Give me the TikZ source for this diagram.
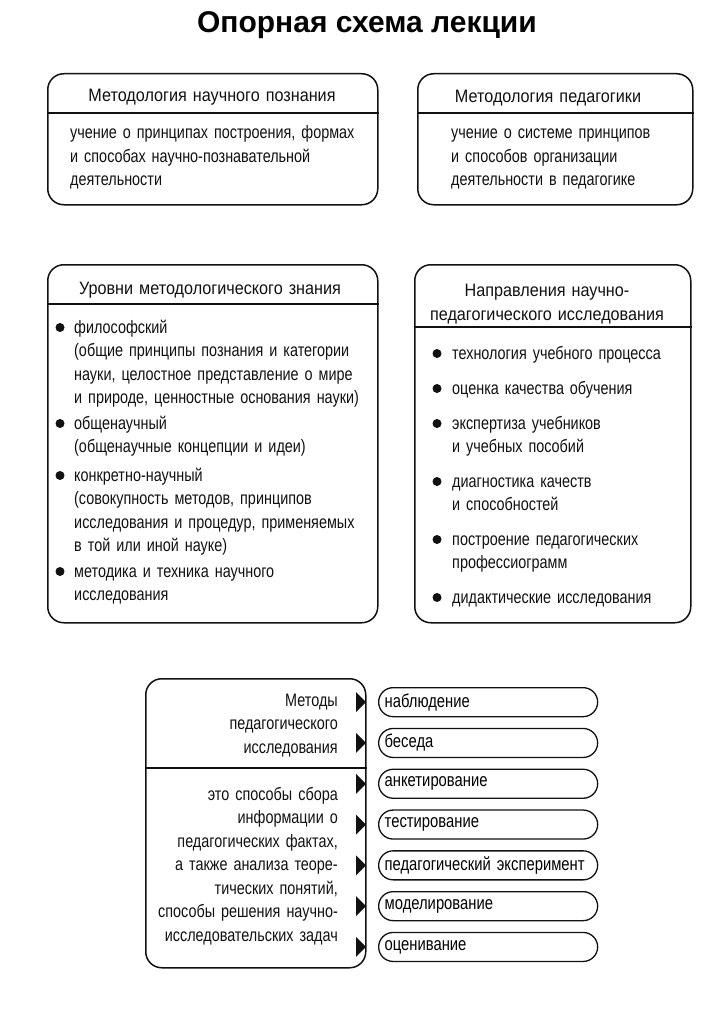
\documentclass[tikz,border=0pt]{standalone}
\usepackage{fontspec}
\setmainfont{Liberation Sans}[FakeStretch=0.8]
\newfontfamily\headfont{Liberation Sans}[FakeStretch=0.9]
\newfontfamily\titlefont{Liberation Sans}
\usetikzlibrary{positioning}
\definecolor{inkblack}{HTML}{111111}
\newcommand\bodyfont{\fontsize{18}{23.5}\selectfont\spaceskip=4pt plus 1pt minus 1pt\relax}
\newcommand\headerfont{\headfont\fontsize{18}{24}\selectfont\spaceskip=4.5pt plus 1pt minus 1pt\relax}
\newcommand\pillfont{\fontsize{18.5}{20}\selectfont\spaceskip=4pt plus 1pt minus 1pt\relax}
\tikzset{
  panel/.style={
    draw=inkblack,
    line width=1.5pt,
    rounded corners=16pt,
    anchor=north west,
    inner sep=0pt
  },
  sepline/.style={
    draw=inkblack,
    line width=1.2pt
  },
  bodytext/.style={
    font=\bodyfont,
    text=inkblack,
    inner sep=0pt,
    align=left
  },
  headtext/.style={
    bodytext,
    font=\headerfont,
    align=center,
    text width=310pt,
    anchor=base
  },
  itemtext/.style={
    bodytext,
    anchor=base west,
    text width=300pt
  },
  righttext/.style={
    bodytext,
    align=right,
    text width=190pt,
    anchor=base east
  },
  methodbox/.style={
    draw=inkblack,
    line width=1.3pt,
    rounded corners=14.5pt,
    minimum width=219pt,
    minimum height=29pt,
    text width=207pt,
    inner xsep=6pt,
    inner ysep=0pt,
    font=\pillfont,
    align=left
  },
  dot/.style={
    fill=inkblack
  }
}

\begin{document}
\begin{tikzpicture}[x=1pt, y=-1pt, node distance=10.5pt]
    \useasboundingbox (0,0) rectangle (711,1019);

    % title
    \node[anchor=base, font=\titlefont\bfseries\fontsize{30}{32}\selectfont] (title) at (367,33) {Опорная схема лекции};

    % top row
    \node[panel, minimum width=330pt, minimum height=131pt] (npbox) at (47,73) {};
    \draw[sepline] (npbox.west |- 0,113) -- (npbox.east |- 0,113);
    \node[headtext] (nphead) at (212,102) {Методология научного познания};
    \node[itemtext] (npbody) at (70,139) {учение о принципах построения, формах\\
        и способах научно-познавательной\\
        деятельности};

    \node[panel, minimum width=275pt, minimum height=131pt] (pgbox) at (417,73) {};
    \draw[sepline] (pgbox.west |- 0,113) -- (pgbox.east |- 0,113);
    \node[headtext] (pghead) at (548,103) {Методология педагогики};
    \node[itemtext] (pgbody) at (451,139) {учение о системе принципов\\
        и способов организации\\
        деятельности в педагогике};

    % levels of methodological knowledge
    \node[panel, minimum width=330pt, minimum height=358pt] (lvbox) at (47,264) {};
    \draw[sepline] (lvbox.west |- 0,304) -- (lvbox.east |- 0,304);
    \node[headtext] (lvhead) at (210,294) {Уровни методологического знания};
    \node[itemtext] (lv1) at (74,333) {философский\\
        (общие принципы познания и категории\\
        науки, целостное представление о мире\\
        и природе, ценностные основания науки)};
    \node[itemtext] (lv2) at (74,429) {общенаучный\\
        (общенаучные концепции и идеи)};
    \node[itemtext] (lv3) at (74,481) {конкретно-научный\\
        (совокупность методов, принципов\\
        исследования и процедур, применяемых\\
        в той или иной науке)};
    \node[itemtext] (lv4) at (74,577) {методика и техника научного\\
        исследования};
    \foreach \n in {lv1,lv2,lv3,lv4}
        \fill[dot] ([xshift=-14pt,yshift=5.5pt]\n.base west) circle (4.5pt);

    % research directions
    \node[panel, minimum width=276pt, minimum height=358pt] (dirbox) at (414,264) {};
    \draw[sepline] (dirbox.west |- 0,327) -- (dirbox.east |- 0,327);
    \node[headtext] (dirhead) at (547,296) {Направления научно-\\педагогического исследования};
    \node[itemtext] (dir1) at (452,359) {технология учебного процесса};
    \node[itemtext] (dir2) at (452,394) {оценка качества обучения};
    \node[itemtext] (dir3) at (452,429) {экспертиза учебников\\и учебных пособий};
    \node[itemtext] (dir4) at (452,487) {диагностика качеств\\и способностей};
    \node[itemtext] (dir5) at (452,545) {построение педагогических\\профессиограмм};
    \node[itemtext] (dir6) at (452,603) {дидактические исследования};
    \foreach \n in {dir1,dir2,dir3,dir4,dir5,dir6}
        \fill[dot] ([xshift=-15pt,yshift=5.5pt]\n.base west) circle (4.5pt);

    % methods of pedagogical research
    \node[panel, minimum width=220pt, minimum height=289pt] (mtbox) at (145,678) {};
    \draw[sepline] (mtbox.west |- 0,768) -- (mtbox.east |- 0,768);
    \node[righttext] (mthead) at (338,706) {Методы\\
        педагогического\\
        исследования};
    \node[righttext] (mtbody) at (338,800) {это способы сбора\\
        информации о\\
        педагогических фактах,\\
        а также анализа теоре-\\
        тических понятий,\\
        способы решения научно-\\
        исследовательских задач};

    \node[methodbox, anchor=north west] (m1) at (378,687) {наблюдение};
    \node[methodbox, below=of m1] (m2) {беседа};
    \node[methodbox, below=of m2] (m3) {анкетирование};
    \node[methodbox, below=of m3] (m4) {тестирование};
    \node[methodbox, below=of m4] (m5) {педагогический эксперимент};
    \node[methodbox, below=of m5] (m6) {моделирование};
    \node[methodbox, below=of m6] (m7) {оценивание};
    \foreach \n in {m1,m2,m3,m4,m5,m6,m7}
        \fill[dot] ([xshift=-22pt,yshift=10pt]\n.west) -- ++(10pt,-10pt) -- ++(-10pt,-10pt) -- cycle;
\end{tikzpicture}
\end{document}
